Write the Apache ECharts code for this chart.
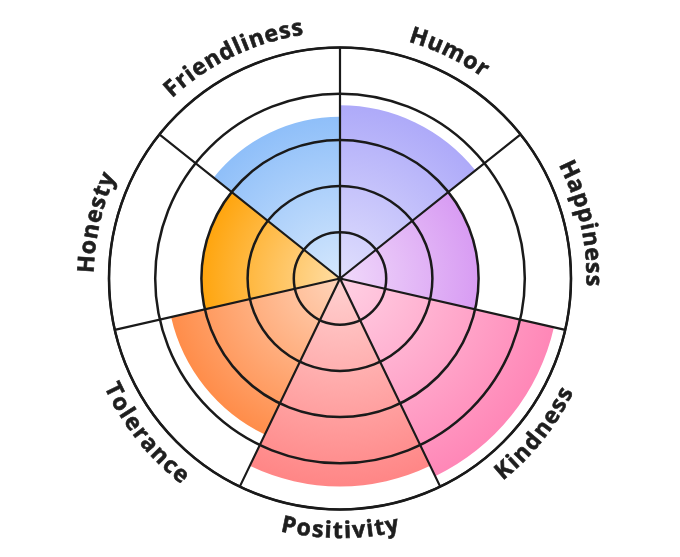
<!DOCTYPE html>
<html>
<head>
<meta charset="utf-8">
<script src="https://cdn.jsdelivr.net/npm/echarts@6/dist/echarts.min.js"></script>
<style>
  html, body { margin: 0; padding: 0; background: #fff; }
  #chart { width: 680px; height: 557px; }
</style>
</head>
<body>
<div id="chart"></div>
<script>
// 数据
var categories = ['Humor', 'Happiness', 'Kindness', 'Positivity', 'Tolerance', 'Honesty', 'Friendliness'];
var scores = [3.75, 3, 4.75, 4.5, 3.75, 3, 3.5];
var outerColors = ['#aeaaf9', '#d89cf3', '#ff87b7', '#ff8686', '#ff8d4a', '#ffa50e', '#8fbff9'];
var radiusMax = 5;
var radiusStep = 1;

var LINE_COLOR = '#1a1a1a';
var LABEL_FONT = 'bold 23px "Open Sans"';
var LETTER_GAP = 1.2;
var LABEL_OFFSET = 22;

var measureCtx = document.createElement('canvas').getContext('2d');
measureCtx.font = LABEL_FONT;

function lighten(hex, t) {
  var n = parseInt(hex.slice(1), 16);
  var r = (n >> 16) & 255, g = (n >> 8) & 255, b = n & 255;
  r = Math.round(r + (255 - r) * t);
  g = Math.round(g + (255 - g) * t);
  b = Math.round(b + (255 - b) * t);
  return 'rgb(' + r + ',' + g + ',' + b + ')';
}

// 沿圆弧排列的文字
function renderLabel(params, api) {
  var i = params.dataIndex;
  var c = api.coord([0, i]);
  var o = api.coord([radiusMax, i]);
  var dx = o[0] - c[0], dy = o[1] - c[1];
  var R = Math.sqrt(dx * dx + dy * dy) + LABEL_OFFSET;
  var phi = Math.atan2(-dy, dx);
  var text = categories[i];
  var chars = text.split('');
  var widths = chars.map(function (ch) { return measureCtx.measureText(ch).width; });
  var total = widths.reduce(function (a, b) { return a + b; }, 0) + LETTER_GAP * (chars.length - 1);
  var upper = Math.sin(phi) > -0.05;
  var dir = upper ? -1 : 1;
  var start = phi - dir * total / (2 * R);
  var acc = 0;
  var children = [];
  chars.forEach(function (ch, k) {
    var a = start + dir * (acc + widths[k] / 2) / R;
    acc += widths[k] + LETTER_GAP;
    children.push({
      type: 'text',
      x: c[0] + R * Math.cos(a),
      y: c[1] - R * Math.sin(a),
      rotation: upper ? a - Math.PI / 2 : a + Math.PI / 2,
      style: {
        text: ch,
        font: LABEL_FONT,
        fill: '#1e1e1e',
        stroke: '#1e1e1e',
        lineWidth: 0.6,
        align: 'center',
        verticalAlign: 'middle'
      }
    });
  });
  return { type: 'group', children: children };
}

var chart = echarts.init(document.getElementById('chart'));

var option = {
  animation: false,
  polar: {
    center: ['50%', '50%'],
    radius: 231
  },
  angleAxis: {
    type: 'category',
    data: categories,
    startAngle: 90,
    clockwise: true,
    z: 10,
    axisLine: { show: true, lineStyle: { color: LINE_COLOR, width: 2.2 } },
    axisTick: { show: false },
    axisLabel: { show: false },
    splitLine: { show: true, lineStyle: { color: LINE_COLOR, width: 2.2 } }
  },
  radiusAxis: {
    type: 'value',
    min: 0,
    max: radiusMax,
    interval: radiusStep,
    z: 10,
    axisLine: { show: false },
    axisTick: { show: false },
    axisLabel: { show: false },
    splitLine: { show: true, lineStyle: { color: LINE_COLOR, width: 2.5 } }
  },
  series: [
    {
      type: 'bar',
      coordinateSystem: 'polar',
      barCategoryGap: '0%',
      z: 2,
      data: scores.map(function (v, i) {
        return { value: v, itemStyle: { color: outerColors[i] } };
      })
    },
    {
      type: 'custom',
      coordinateSystem: 'polar',
      z: 20,
      silent: true,
      data: categories.map(function (c, i) { return [radiusMax, i]; }),
      renderItem: renderLabel
    }
  ]
};

chart.setOption(option);

// 径向渐变：中心浅色，外缘为原色
var center = chart.convertToPixel({ seriesIndex: 0 }, [0, 0]);
var barData = scores.map(function (v, i) {
  var p = chart.convertToPixel({ seriesIndex: 0 }, [v, i]);
  var r = Math.sqrt(Math.pow(p[0] - center[0], 2) + Math.pow(p[1] - center[1], 2));
  return {
    value: v,
    itemStyle: {
      color: new echarts.graphic.RadialGradient(center[0], center[1], r, [
        { offset: 0, color: lighten(outerColors[i], 0.62) },
        { offset: 1, color: outerColors[i] }
      ], true)
    }
  };
});
chart.setOption({ series: [{ data: barData }, {}] });
</script>
</body>
</html>
